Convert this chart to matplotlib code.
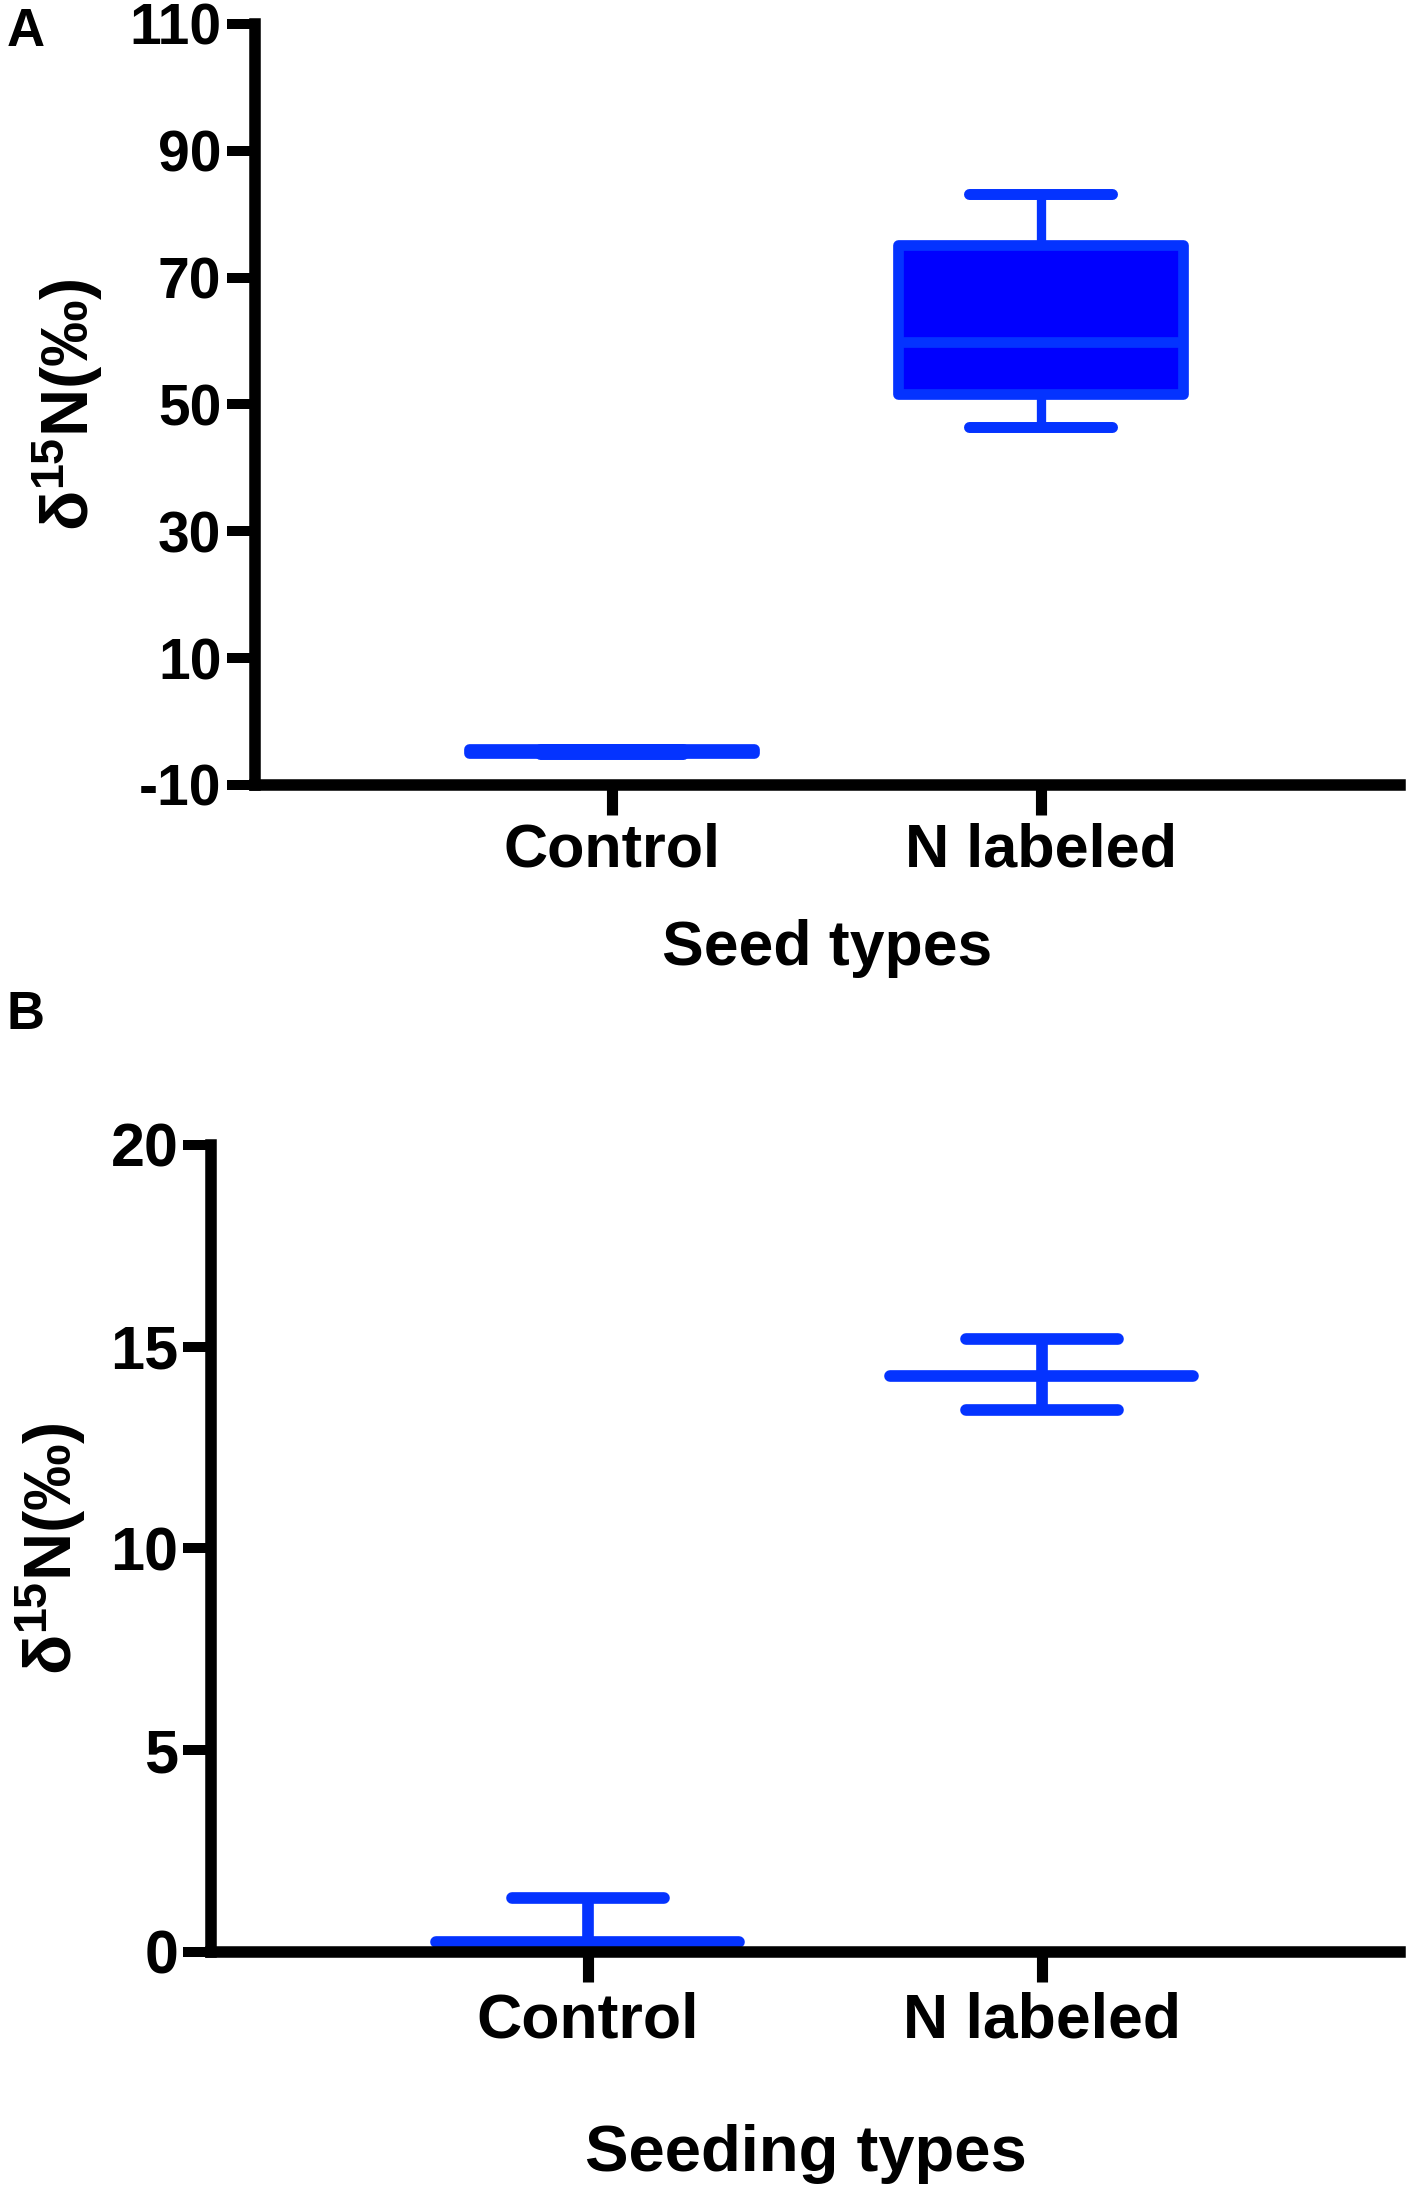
import matplotlib
matplotlib.use("Agg")
import matplotlib.pyplot as plt
import numpy as np

plt.rcParams['font.family'] = ['Liberation Sans', 'DejaVu Sans']
plt.rcParams['font.weight'] = 'bold'
plt.rcParams['axes.unicode_minus'] = False
plt.rcParams['mathtext.fontset'] = 'custom'
plt.rcParams['mathtext.rm'] = 'Liberation Sans'
plt.rcParams['mathtext.it'] = 'Liberation Sans:italic'
plt.rcParams['mathtext.bf'] = 'Liberation Sans:bold'

# ---------------- data ----------------
categories = ['Control', 'N labeled']
positions = [1, 2]

# Panel A: box plot (seed types)
a_whislo = [-5.2, 46.4]
a_q1 = [-5.0, 51.6]
a_med = [-4.7, 59.8]
a_q3 = [-4.4, 75.2]
a_whishi = [-4.4, 83.2]
a_yticks = [-10, 10, 30, 50, 70, 90, 110]

# Panel B: mean with error bars (seeding types)
b_mean = [0.24, 14.28]
b_low = [0.08, 13.42]
b_high = [1.33, 15.18]
b_yticks = [0, 5, 10, 15, 20]

EDGE = '#0433FF'
FILL = '#0000FF'
YLABEL = r'$\mathrm{\delta}^{\mathrm{15}}\mathbf{N(‰)}$'

fig = plt.figure(figsize=(14.25, 21.9), dpi=100)
axA = fig.add_axes([0.1789, 0.6416, 0.8035, 0.3475])
axB = fig.add_axes([0.1481, 0.1087, 0.8344, 0.3685])


def style(ax, ylab_size, xlab_size, ypad, xpad):
    for s in ['top', 'right']:
        ax.spines[s].set_visible(False)
    for s in ['left', 'bottom']:
        ax.spines[s].set_linewidth(8.3)
        ax.spines[s].set_capstyle('projecting')
        ax.spines[s].set_color('black')
    ax.tick_params(axis='y', direction='out', length=20.5, width=7.2,
                   pad=ypad, labelsize=ylab_size, colors='black')
    ax.tick_params(axis='x', direction='out', length=21.5, width=8.0,
                   pad=xpad, labelsize=xlab_size, colors='black')
    for lab in ax.get_xticklabels() + ax.get_yticklabels():
        lab.set_fontweight('bold')


# ---------------- Panel A ----------------
stats = []
for i, cat in enumerate(categories):
    stats.append(dict(med=a_med[i], q1=a_q1[i], q3=a_q3[i],
                      whislo=a_whislo[i], whishi=a_whishi[i], label=cat))

axA.bxp(stats, positions=positions, widths=0.664, capwidths=0.333,
        patch_artist=True, showfliers=False,
        boxprops=dict(facecolor=FILL, edgecolor=EDGE, linewidth=7.7,
                      joinstyle='round'),
        whiskerprops=dict(color=EDGE, linewidth=6.7, solid_capstyle='butt'),
        capprops=dict(color=EDGE, linewidth=7.9, solid_capstyle='round'),
        medianprops=dict(color=EDGE, linewidth=7.7, solid_capstyle='butt'))

axA.set_xlim(0.168, 2.837)
axA.set_ylim(-10, 110)
axA.set_yticks(a_yticks)
axA.set_xticks(positions)
axA.set_xticklabels(categories)
style(axA, 41, 44, 3.6, 5.8)
axA.set_ylabel(YLABEL, fontsize=48, fontweight='normal')
axA.yaxis.set_label_coords(-0.131, 0.5)
axA.set_xlabel('Seed types', fontsize=45, fontweight='bold')
axA.xaxis.set_label_coords(0.5, -0.176)

# ---------------- Panel B ----------------
x = np.array(positions, dtype=float)
mean_half = 0.3335
cap_half = 0.1675
lwB = 8.4
axB.vlines(x, b_low, b_high, colors=EDGE, linewidth=lwB, zorder=2, clip_on=False)
hl = axB.hlines(b_mean, x - mean_half, x + mean_half, colors=EDGE,
                linewidth=lwB, zorder=2, clip_on=False)
hl.set_capstyle('round')
for vals in (b_high, b_low):
    c = axB.hlines(vals, x - cap_half, x + cap_half, colors=EDGE,
                   linewidth=lwB, zorder=2, clip_on=False)
    c.set_capstyle('round')

axB.set_xlim(0.170, 2.789)
axB.set_ylim(0, 20)
axB.set_yticks(b_yticks)
axB.set_xticks(positions)
axB.set_xticklabels(categories)
style(axB, 44, 45, 3.0, 7.0)
axB.set_ylabel(YLABEL, fontsize=48, fontweight='normal')
axB.yaxis.set_label_coords(-0.1034, 0.5)
axB.set_xlabel('Seeding types', fontsize=47, fontweight='bold')
axB.xaxis.set_label_coords(0.5, -0.2131)

# panel letters
fig.text(7 / 1425, 1 - 7 / 2190, 'A', fontsize=38, fontweight='bold',
         ha='left', va='top')
fig.text(7 / 1425, 1 - 990 / 2190, 'B', fontsize=38, fontweight='bold',
         ha='left', va='top')

fig.savefig('out.png', dpi=100, facecolor='white')
